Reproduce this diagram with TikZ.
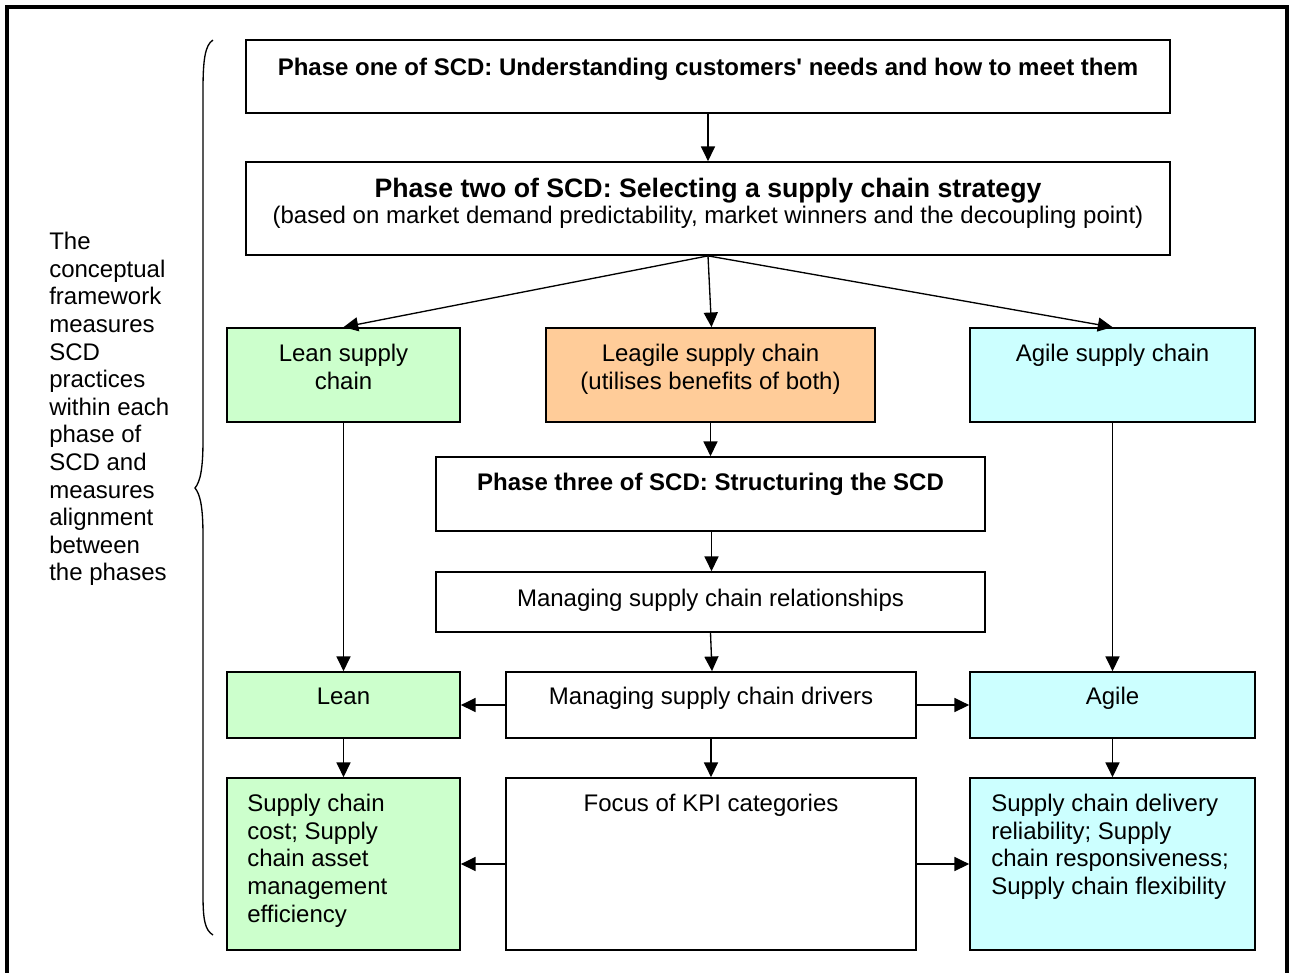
\documentclass[tikz,border=0pt]{standalone}
\usepackage{fontspec}
\setmainfont{Liberation Sans}
\usetikzlibrary{arrows.meta,calc}
\definecolor{leanfill}{HTML}{CCFFCC}
\definecolor{leagilefill}{HTML}{FFCC99}
\definecolor{agilefill}{HTML}{CCFFFF}
\begin{document}
\begin{tikzpicture}[x=0.75pt,y=-0.75pt,
  box/.style={draw=black,line width=1.3pt,inner sep=0pt,rectangle},
  lbl/.style={inner sep=0pt,anchor=north,align=center,font=\fontsize{18}{20.7}\selectfont},
  lbll/.style={inner sep=0pt,anchor=north west,align=left,font=\fontsize{18}{20.7}\selectfont},
  arr/.style={line width=1pt,-{Triangle[length=11pt,width=10.5pt]}}]
\useasboundingbox (0,0) rectangle (1291,972);
% outer frame (bottom edge lies below the page)
\draw[line width=3pt] (7,990) -- (7,7) -- (1287,7) -- (1287,990);

% boxes: top-left corner and size in pixels
\newcommand{\bx}[6]{\node[box,fill=#6,minimum width=#4*0.75pt,minimum height=#5*0.75pt] (#1) at (#2+#4/2,#3+#5/2) {};}
\bx{p1}{246}{40}{924}{73}{white}
\bx{p2}{246}{162}{924}{93}{white}
\bx{lsc}{227}{328}{233}{94}{leanfill}
\bx{lgsc}{546}{328}{329}{94}{leagilefill}
\bx{asc}{970}{328}{285}{94}{agilefill}
\bx{p3}{436}{457}{549}{74}{white}
\bx{rel}{436}{572}{549}{60}{white}
\bx{lean}{227}{672}{233}{66}{leanfill}
\bx{drv}{506}{672}{410}{66}{white}
\bx{agile}{970}{672}{285}{66}{agilefill}
\bx{cost}{227}{778}{233}{172}{leanfill}
\bx{kpi}{506}{778}{410}{172}{white}
\bx{dlv}{970}{778}{285}{172}{agilefill}

% texts
\node[lbl] (t1) at ($(p1.north)+(0,19)$) {\bfseries Phase one of SCD: Understanding customers\textquotesingle{} needs and how to meet them};
\node[lbl] (t2) at ($(p2.north)+(0,17)$) {{\bfseries\fontsize{20}{23}\selectfont Phase two of SCD: Selecting a supply chain strategy}\\[-1pt](based on market demand predictability, market winners and the decoupling point)};
\node[lbl] (t3) at ($(lsc.north)+(0,17)$) {Lean supply\\chain};
\node[lbl] (t4) at ($(lgsc.north)+(0,17)$) {Leagile supply chain\\(utilises benefits of both)};
\node[lbl] (t5) at ($(asc.north)+(0,17)$) {Agile supply chain};
\node[lbl] (t6) at ($(p3.north)+(0,17)$) {\bfseries Phase three of SCD: Structuring the SCD};
\node[lbl] (t7) at ($(rel.north)+(0,18)$) {Managing supply chain relationships};
\node[lbl] (t8) at ($(lean.north)+(0,17)$) {Lean};
\node[lbl] (t9) at ($(drv.north)+(0,16)$) {Managing supply chain drivers};
\node[lbl] (t10) at ($(agile.north)+(0,16)$) {Agile};
\node[lbl] (t11) at ($(kpi.north)+(0,17)$) {Focus of KPI categories};
\node[lbll] (t12) at (247,794) {Supply chain\\cost; Supply\\chain asset\\management\\efficiency};
\node[lbll] (t13) at (991,794) {Supply chain delivery\\reliability; Supply\\chain responsiveness;\\Supply chain flexibility};
\node[lbll] (side) at (49,232) {The\\conceptual\\framework\\measures\\SCD\\practices\\within each\\phase of\\SCD and\\measures\\alignment\\between\\the phases};

% brace grouping the phases
\coordinate (bt) at (213,40);
\coordinate (btip) at (195,488);
\coordinate (bb) at (213,935);
\draw[line width=1pt] (bt) .. controls (205,45) and (203,60) .. (203,90)
  -- (203,440) .. controls (203,470) and (200,482) .. (btip)
  .. controls (200,494) and (203,506) .. (203,536)
  -- (203,895) .. controls (203,920) and (205,930) .. (bb);

% connectors
\draw[arr] (p1.south) -- (p2.north);
\draw[arr] (p2.south) -- (lsc.north);
\draw[arr] (p2.south) -- ($(lgsc.north)+(1,0)$);
\draw[arr] (p2.south) -- (asc.north);
\draw[arr] (lgsc.south) -- (lgsc.south |- p3.north);
\draw[arr] ($(p3.south)+(1,0)$) -- ($(rel.north)+(1,0)$);
\draw[arr] (rel.south) -- ($(drv.north)+(1,0)$);
\draw[arr] (lsc.south) -- (lean.north);
\draw[arr] (asc.south) -- (agile.north);
\draw[arr] (drv.west) -- (lean.east);
\draw[arr] (drv.east) -- (agile.west);
\draw[arr] (drv.south) -- (kpi.north);
\draw[arr] (lean.south) -- (cost.north);
\draw[arr] (agile.south) -- (dlv.north);
\draw[arr] (kpi.west) -- (cost.east);
\draw[arr] (kpi.east) -- (dlv.west);
\end{tikzpicture}
\end{document}
